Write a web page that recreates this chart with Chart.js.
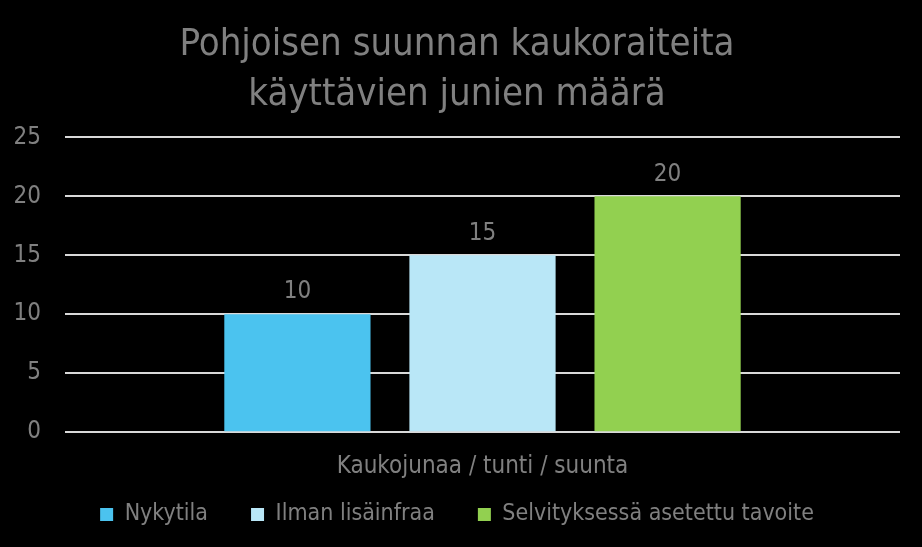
<!DOCTYPE html>
<html>
<head>
<meta charset="utf-8">
<script src="https://cdn.jsdelivr.net/npm/chart.js@4.4.0/dist/chart.umd.min.js"></script>
<style>
    body { margin: 0; background: #000; }
    #wrap { width: 922px; height: 547px; }
</style>
</head>
<body>
<div id="wrap"><canvas id="chart"></canvas></div>
<script>
// data
var categories = ["Kaukojunaa / tunti / suunta"];
var seriesNames = ["Nykytila", "Ilman lisäinfraa", "Selvityksessä asetettu tavoite"];
var nykytila = [10];
var ilmanLisainfraa = [15];
var tavoite = [20];
var titleLines = ["Pohjoisen suunnan kaukoraiteita", "käyttävien junien määrä"];

var textColor = "#808080";
var fontFamily = "'DejaVu Sans Condensed', 'DejaVu Sans', sans-serif";

// draws the value above each bar
var valueLabels = {
    id: "valueLabels",
    afterDatasetsDraw: function(chart) {
        var ctx = chart.ctx;
        ctx.save();
        ctx.fillStyle = textColor;
        ctx.font = "24px " + fontFamily;
        ctx.textAlign = "center";
        ctx.textBaseline = "bottom";
        chart.data.datasets.forEach(function(ds, i) {
            chart.getDatasetMeta(i).data.forEach(function(bar, j) {
                ctx.fillText(ds.data[j], bar.x, bar.y - 10);
            });
        });
        ctx.restore();
    }
};

// legend padding is used both between items and above them;
// keep the wide gaps between items but pull the row up
var legendGap = {
    id: "legendGap",
    afterInit: function(chart) {
        var legend = chart.legend;
        var shift = 33;
        var fit = legend.fit;
        var draw = legend.draw;
        legend.fit = function() {
            fit.call(this);
            this.height -= shift;
        };
        legend.draw = function() {
            this.top -= shift;
            draw.call(this);
            this.top += shift;
        };
    }
};

new Chart("chart", {
    type: "bar",
    data: {
        labels: categories,
        datasets: [
            { label: seriesNames[0], data: nykytila, backgroundColor: "#4BC3EF" },
            { label: seriesNames[1], data: ilmanLisainfraa, backgroundColor: "#B9E7F7" },
            { label: seriesNames[2], data: tavoite, backgroundColor: "#92D050" }
        ]
    },
    options: {
        responsive: true,
        maintainAspectRatio: false,
        animation: false,
        layout: { padding: { left: 14, right: 22, top: 10, bottom: 11 } },
        datasets: {
            bar: { barPercentage: 0.79, categoryPercentage: 0.665 }
        },
        scales: {
            x: {
                grid: { display: false },
                border: { display: false },
                ticks: { color: textColor, font: { family: fontFamily, size: 24 }, padding: 12 }
            },
            y: {
                min: 0,
                max: 25,
                ticks: { stepSize: 5, color: textColor, font: { family: fontFamily, size: 24 }, padding: 24 },
                grid: { color: "#d9d9d9", lineWidth: 2, drawTicks: false },
                border: { display: false },
                afterFit: function(scale) { scale.width = 51; }
            }
        },
        plugins: {
            title: {
                display: true,
                text: titleLines,
                color: textColor,
                font: { family: fontFamily, size: 38, weight: "normal", lineHeight: 1.32 },
                padding: { top: 10, bottom: 17 }
            },
            legend: {
                position: "bottom",
                labels: {
                    color: textColor,
                    font: { family: fontFamily, size: 23 },
                    boxWidth: 13,
                    boxHeight: 13,
                    padding: 43
                }
            },
            tooltip: { enabled: false }
        }
    },
    plugins: [valueLabels, legendGap]
});
</script>
</body>
</html>
